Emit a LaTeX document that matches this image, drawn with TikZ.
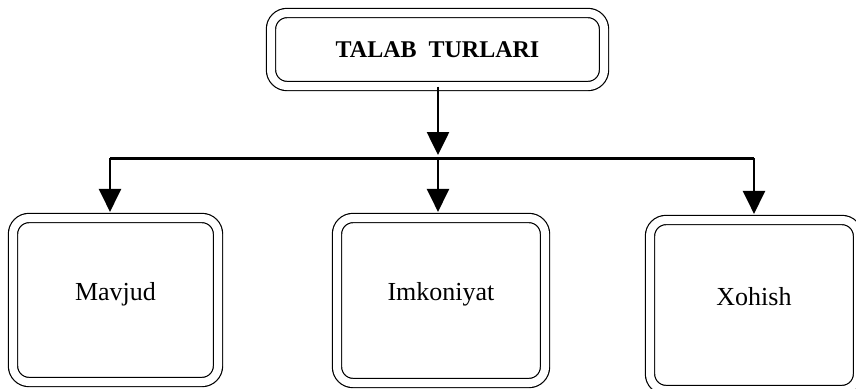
\documentclass[tikz,border=0pt]{standalone}
\usepackage{fontspec}
\setmainfont{Liberation Serif}
\usetikzlibrary{arrows.meta}
\begin{document}
\begin{tikzpicture}[x=0.5pt,y=-0.5pt,
  quti/.style={draw, double, double distance=4pt, line width=0.6pt, rounded corners=8pt, inner sep=0pt, font=\fontsize{13}{15}\selectfont},
  strelka/.style={line width=1.3pt, -{Triangle[length=11.5pt,width=11pt]}}]
\useasboundingbox (0,0) rectangle (856,388);
% bosh quti
\node[quti, minimum width=166.5pt, minimum height=36.5pt, font=\fontsize{12}{14}\selectfont\bfseries] (talab) at (437.5,49.5) {TALAB\ \ TURLARI};
% pastki qutilar
\begin{scope}[every node/.append style={text depth=9pt}]
  \node[quti, minimum width=102.5pt, minimum height=82pt] (mavjud) at (115.5,300) {Mavjud};
  \node[quti, minimum width=104pt, minimum height=82.5pt] (imkon) at (441,300.5) {Imkoniyat};
  \node[quti, minimum width=104pt, minimum height=85pt] (xohish) at (754,305) {Xohish};
\end{scope}
% tarmoq chizig'i
\coordinate (chap) at (110,158);
\coordinate (orta) at (438,158);
\coordinate (ong) at (754,158);
\draw[line width=1.5pt] (chap) -- (ong);
\draw[strelka] (talab.south -| orta) -- ([yshift=1.5pt]orta);
\begin{scope}[shorten >=2.75pt]
  \draw[strelka] (chap) -- (mavjud.north -| chap);
  \draw[strelka] (orta) -- (imkon.north -| orta);
  \draw[strelka] (ong) -- (xohish.north -| ong);
\end{scope}
\end{tikzpicture}
\end{document}
